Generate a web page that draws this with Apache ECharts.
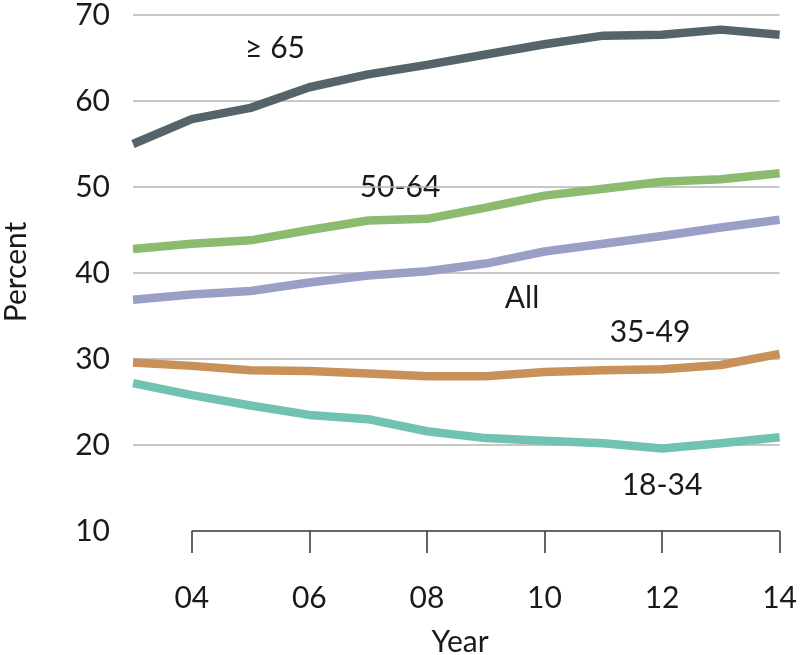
<!DOCTYPE html>
<html>
<head>
<meta charset="utf-8">
<script src="https://cdn.jsdelivr.net/npm/echarts@6/dist/echarts.min.js"></script>
<style>
  html, body { margin: 0; padding: 0; background: #fff; }
  #chart { width: 800px; height: 655px; }
</style>
</head>
<body>
<div id="chart"></div>
<script>
var years = ['2003', '2004', '2005', '2006', '2007', '2008', '2009', '2010', '2011', '2012', '2013', '2014'];
var age65 = [55.0, 57.9, 59.2, 61.6, 63.1, 64.2, 65.4, 66.6, 67.6, 67.7, 68.3, 67.7];
var age50 = [42.8, 43.4, 43.8, 45.0, 46.1, 46.3, 47.6, 49.0, 49.8, 50.6, 50.9, 51.6];
var ageAll = [36.9, 37.5, 37.9, 38.9, 39.7, 40.2, 41.1, 42.5, 43.4, 44.3, 45.3, 46.2];
var age35 = [29.6, 29.2, 28.7, 28.6, 28.3, 28.0, 28.0, 28.5, 28.7, 28.8, 29.3, 30.6];
var age18 = [27.2, 25.8, 24.6, 23.5, 23.0, 21.6, 20.8, 20.5, 20.2, 19.6, 20.2, 20.9];
var yTicks = [10, 20, 30, 40, 50, 60, 70];

var FONT = 'Lato';
var TXT = '#1a1a1a';

function line(name, data, color) {
    return {
        name: name,
        type: 'line',
        data: data,
        symbol: 'none',
        lineStyle: { color: color, width: 8.5 },
        itemStyle: { color: color }
    };
}

var chart = echarts.init(document.getElementById('chart'));
var series = [
    line('18-34', age18, '#72c2b3'),
    line('35-49', age35, '#c9915a'),
    line('All', ageAll, '#9a9fc6'),
    line('50-64', age50, '#8cba6f'),
    line('≥ 65', age65, '#55636a')
];
// x axis line starts at 04, not at the first year
series[0].markLine = {
    silent: true,
    symbol: 'none',
    label: { show: false },
    lineStyle: { color: '#333', width: 1.5, type: 'solid' },
    data: [[{ coord: ['2004', 10] }, { coord: ['2014', 10] }]]
};

chart.setOption({
    animation: false,
    grid: { left: 133, right: 14, top: 12, bottom: 124 },
    xAxis: {
        type: 'category',
        data: years,
        boundaryGap: false,
        axisLine: { show: false },
        axisTick: {
            show: true,
            length: 22,
            interval: function (i) { return i % 2 === 1; },
            lineStyle: { color: '#333', width: 1.5 }
        },
        axisLabel: {
            interval: function (i) { return i % 2 === 1; },
            formatter: function (v) { return v.slice(2); },
            margin: 52,
            fontFamily: FONT,
            fontSize: 30,
            color: TXT
        },
        splitLine: { show: false }
    },
    yAxis: {
        type: 'value',
        min: yTicks[0],
        max: yTicks[yTicks.length - 1],
        interval: 10,
        axisLine: { show: false },
        axisTick: { show: false },
        axisLabel: {
            margin: 23,
            fontFamily: FONT,
            fontSize: 30,
            color: TXT
        },
        splitLine: {
            show: true,
            showMinLine: false,
            lineStyle: { color: '#b5b5b5', width: 1.5 }
        }
    },
    series: series,
    graphic: [
        { type: 'text', x: 275, y: 48, style: { text: '≥ 65', font: '30px ' + FONT, fill: TXT, textAlign: 'center', textVerticalAlign: 'middle' } },
        { type: 'text', x: 400, y: 187, style: { text: '50-64', font: '30px ' + FONT, fill: TXT, textAlign: 'center', textVerticalAlign: 'middle' } },
        { type: 'text', x: 522, y: 298, style: { text: 'All', font: '30px ' + FONT, fill: TXT, textAlign: 'center', textVerticalAlign: 'middle' } },
        { type: 'text', x: 650, y: 332, style: { text: '35-49', font: '30px ' + FONT, fill: TXT, textAlign: 'center', textVerticalAlign: 'middle' } },
        { type: 'text', x: 662, y: 485, style: { text: '18-34', font: '30px ' + FONT, fill: TXT, textAlign: 'center', textVerticalAlign: 'middle' } },
        { type: 'text', x: 16, y: 272, rotation: Math.PI / 2, style: { text: 'Percent', font: '30px ' + FONT, fill: TXT, textAlign: 'center', textVerticalAlign: 'middle' } },
        { type: 'text', x: 460, y: 642, style: { text: 'Year', font: '30px ' + FONT, fill: TXT, textAlign: 'center', textVerticalAlign: 'middle' } }
    ]
});
</script>
</body>
</html>
